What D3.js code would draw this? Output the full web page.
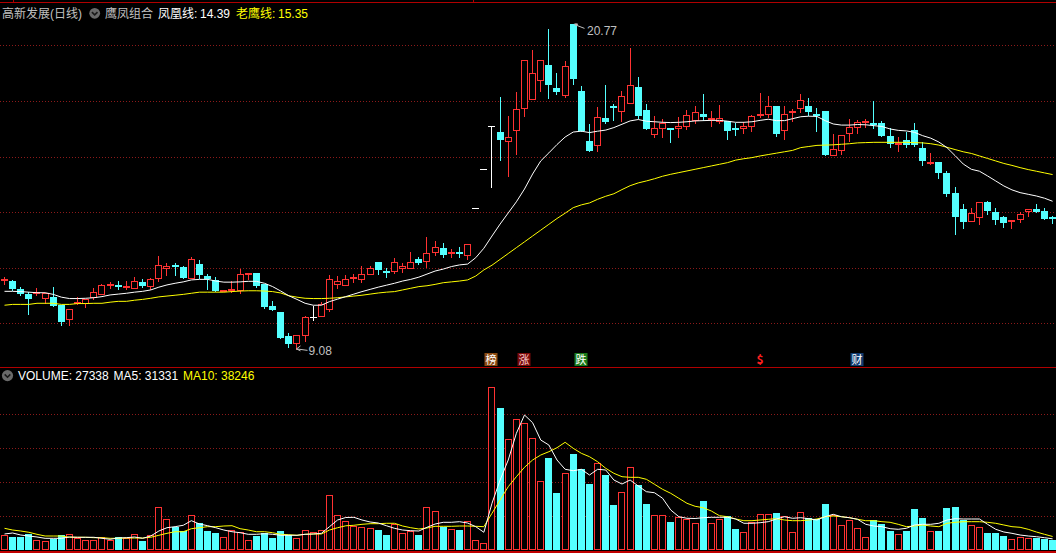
<!DOCTYPE html>
<html><head><meta charset="utf-8">
<script src="https://cdn.jsdelivr.net/npm/d3@7"></script>
<style>html,body{margin:0;padding:0;background:#000;overflow:hidden}</style>
</head><body><svg id="c" width="1056" height="553"></svg>
<script>
// ---------- DATA ----------
const stockName = "高新发展(日线)";
const indicatorName = "鹰凤组合";
const maLabel1 = "凤凰线";
const maLabel2 = "老鹰线";

const openP = [11.55,11.52,11.22,11.05,11.04,10.89,10.96,10.67,10.13,10.75,10.71,10.90,11.03,11.39,11.37,11.28,11.25,11.49,11.32,11.58,
11.96,12.11,12.03,11.61,12.13,11.70,11.56,11.14,11.17,11.16,11.73,11.81,11.42,10.63,10.42,9.54,9.26,9.54,10.24,10.24,
10.48,11.37,11.33,11.64,11.56,11.75,12.19,11.89,11.85,11.96,11.96,12.31,12.19,12.52,12.71,12.48,12.58,12.41,14.13,15.54,
17.09,16.87,16.51,16.91,17.70,18.02,18.71,19.28,18.46,18.19,20.77,18.35,16.56,16.39,17.37,17.81,17.61,17.88,18.50,17.67,
16.78,17.00,17.03,16.98,17.07,17.29,17.53,17.30,17.25,17.29,17.03,17.00,17.07,17.45,17.50,17.82,16.93,17.59,17.72,17.82,
17.54,17.64,16.03,16.21,16.82,17.01,17.24,17.20,17.21,16.73,16.41,16.58,16.94,16.31,15.80,15.80,15.41,14.69,14.11,13.66,
13.80,14.37,14.00,13.81,13.66,13.71,14.02,14.11,14.04,13.81];
const highP = [11.67,11.56,11.31,11.14,11.28,11.09,11.31,10.67,10.52,10.95,10.89,11.27,11.42,11.49,11.51,11.52,11.67,11.59,11.62,12.42,
12.17,12.17,12.06,12.37,12.28,11.76,11.67,11.20,11.51,11.95,11.80,11.81,11.42,10.80,10.42,9.64,9.57,10.27,10.63,10.78,
11.74,11.70,11.74,11.76,12.06,12.07,12.21,11.98,12.34,12.18,12.57,12.37,13.12,12.96,12.89,12.68,12.73,12.84,14.13,15.54,
17.09,18.14,17.46,18.32,19.46,19.83,19.46,20.59,18.99,19.42,20.77,18.54,17.17,17.78,18.57,17.88,18.34,19.90,18.86,17.89,
17.45,17.34,17.04,17.41,17.67,17.82,18.24,17.65,17.85,17.29,17.22,17.24,17.49,18.30,18.18,17.82,17.83,17.71,18.25,18.10,
17.73,17.64,16.81,16.76,17.35,17.31,17.34,17.99,17.28,17.01,16.69,16.89,17.21,16.53,16.13,15.80,15.48,14.90,14.29,14.15,
14.35,14.40,14.15,13.87,13.71,13.99,14.10,14.28,14.14,13.86];
const lowP = [11.40,11.20,11.02,10.35,11.02,10.72,10.63,9.95,9.95,10.68,10.60,10.89,11.02,11.28,11.23,11.25,11.25,11.32,11.23,11.53,
11.75,11.75,11.64,11.58,11.62,11.23,11.16,11.13,11.14,11.09,11.59,11.32,10.55,10.48,9.46,9.16,9.08,9.38,10.12,10.24,
10.45,11.26,11.33,11.50,11.50,11.75,11.77,11.68,11.82,11.85,11.96,12.12,12.04,12.45,12.37,12.37,12.37,12.32,14.13,15.54,
14.91,15.87,15.31,16.10,17.45,18.02,18.37,18.12,18.24,18.15,18.60,16.92,16.21,16.20,17.22,17.31,17.28,17.88,17.37,16.99,
16.71,16.70,16.53,16.70,17.00,17.22,17.31,17.10,17.22,16.64,16.76,16.86,16.93,17.41,17.41,16.75,16.63,17.28,17.61,17.50,
16.93,16.05,16.03,16.09,16.56,16.86,17.07,17.04,16.75,16.33,16.21,16.35,16.39,15.71,15.74,15.24,14.59,13.22,13.44,13.65,
13.58,13.93,13.58,13.48,13.44,13.66,13.87,14.02,13.76,13.62];
const closeP = [11.58,11.23,11.04,10.89,11.12,11.08,10.63,10.06,10.51,10.78,10.89,11.12,11.38,11.42,11.34,11.35,11.51,11.34,11.58,12.09,
12.06,12.09,11.64,12.32,11.75,11.59,11.16,11.20,11.23,11.76,11.80,11.35,10.60,10.48,9.46,9.26,9.57,10.23,10.24,10.68,
11.59,11.51,11.58,11.67,11.77,11.98,11.92,11.87,12.19,12.06,12.19,12.18,12.52,12.73,12.46,12.58,12.55,12.84,14.13,15.54,
17.09,16.60,16.69,17.70,19.46,18.99,19.46,18.58,18.33,19.24,18.80,16.92,16.21,17.41,17.25,17.79,18.17,18.56,17.46,16.99,
17.01,17.21,16.96,17.09,17.48,17.59,17.42,17.37,17.37,16.93,17.01,17.09,17.45,17.53,17.81,16.81,17.53,17.65,18.02,17.60,
17.52,16.05,16.26,16.76,17.06,17.25,17.27,17.12,16.75,16.44,16.50,16.41,16.43,15.85,15.82,15.42,14.65,13.84,13.66,13.97,
14.35,14.05,13.73,13.62,13.71,13.92,14.10,14.02,13.76,13.79];
const volume = [42600,37600,37600,45600,27100,24100,30900,42600,44700,32900,27100,27100,35900,28800,36800,34700,44700,25000,41800,124100,
88800,67100,54400,100600,77100,54400,48500,35900,56500,52300,27100,40600,47600,33800,54400,42600,32900,56500,50600,56500,
159400,100600,82900,70000,66200,62300,57300,42600,74100,47600,55300,42600,124100,112300,67100,59400,57300,82900,27100,18200,
477000,416200,324100,382900,371200,327000,200600,269100,166200,224100,280900,236800,192600,253500,219100,130900,168200,241800,189700,133800,
100600,100600,80900,94700,88800,77100,142600,77100,88800,98500,60300,51500,80900,103500,103500,107300,97600,51500,109400,92600,
89700,133800,100600,71200,85900,62300,35900,85900,75000,54400,44700,54400,119100,92600,53500,54400,122100,125000,85900,71200,
65300,48500,48500,39700,30000,35900,32900,33800,31800,27338];
// 凤凰线 (white) and 老鹰线 (yellow)
const phoenixLine = [11.15,11.15,11.14,11.12,11.10,11.10,11.04,10.94,10.89,10.89,10.90,10.92,10.96,11.02,11.05,11.08,11.12,11.15,11.20,11.30,
11.38,11.44,11.49,11.56,11.58,11.58,11.52,11.48,11.48,11.49,11.51,11.51,11.44,11.32,11.16,10.99,10.86,10.72,10.65,10.65,
10.78,10.87,10.96,11.05,11.14,11.22,11.30,11.37,11.44,11.52,11.58,11.66,11.77,11.88,11.95,12.04,12.10,12.13,12.36,12.70,
13.14,13.57,13.97,14.37,14.83,15.37,15.84,16.13,16.43,16.70,16.88,16.91,16.86,16.91,16.95,17.04,17.16,17.28,17.33,17.27,
17.25,17.23,17.22,17.23,17.25,17.28,17.29,17.30,17.30,17.27,17.23,17.23,17.25,17.30,17.34,17.29,17.29,17.36,17.43,17.45,
17.44,17.29,17.17,17.13,17.13,17.15,17.14,17.11,17.08,16.99,16.94,16.92,16.87,16.75,16.66,16.52,16.32,16.03,15.73,15.54,
15.47,15.30,15.12,14.94,14.80,14.70,14.64,14.58,14.50,14.39];
const eagleLine = [10.65,10.68,10.68,10.68,10.72,10.72,10.72,10.68,10.68,10.71,10.71,10.72,10.72,10.76,10.79,10.79,10.83,10.86,10.90,10.95,
10.98,11.01,11.04,11.08,11.12,11.12,11.12,11.12,11.14,11.16,11.17,11.17,11.16,11.14,11.09,10.99,10.94,10.90,10.89,10.89,
10.90,10.92,10.95,10.98,11.01,11.05,11.09,11.12,11.14,11.20,11.26,11.32,11.35,11.40,11.46,11.49,11.52,11.56,11.70,11.92,
12.09,12.30,12.51,12.72,12.93,13.14,13.35,13.56,13.77,13.96,14.16,14.26,14.33,14.46,14.57,14.66,14.81,14.95,15.05,15.12,
15.20,15.29,15.36,15.42,15.48,15.54,15.60,15.66,15.72,15.78,15.87,15.92,15.96,16.02,16.07,16.12,16.17,16.22,16.32,16.36,
16.40,16.41,16.42,16.44,16.46,16.49,16.50,16.51,16.51,16.51,16.51,16.51,16.50,16.49,16.46,16.41,16.33,16.25,16.17,16.11,
16.02,15.93,15.84,15.75,15.68,15.60,15.53,15.47,15.41,15.35];
const volMA5 = [45600,48500,42600,39700,36800,32900,32900,32900,36800,35900,35900,35900,32900,30000,33800,34700,36800,32900,39700,54400,
64100,67100,71200,84700,75000,70000,64100,57300,52300,49400,44700,44700,46500,44700,41800,41800,41800,44700,45600,47600,
67100,86800,94100,94700,86800,80900,77900,70000,62300,57300,55300,54400,65300,75000,80000,80000,81800,77900,67100,50600,
135900,204400,263200,341700,395600,372900,322000,307300,263200,235900,231700,235900,219100,235900,233800,204400,192600,204400,186800,170000,
167000,150600,116200,96500,91800,91200,93500,94700,94700,94700,89700,77100,77100,78800,81800,89700,96500,91800,93500,90600,
86800,96500,103500,96500,93500,88800,74100,69100,67100,61200,59400,62300,72100,74100,74100,77100,86800,90600,89700,89700,
89700,74100,59400,51500,47600,42600,39700,37600,34700,31331];
const volMA10 = [62300,57300,54400,50600,44700,39700,39700,39700,35900,35900,35900,34700,34700,32900,32900,33800,33800,33800,35900,41800,
47600,52300,52300,61200,64100,67100,67100,69100,70000,61200,57300,52300,52300,49400,44700,43500,41800,44700,45600,45600,
57300,64100,69700,71200,74100,75900,75900,77100,77100,69100,64100,60300,63200,68200,68200,68200,69100,69100,68200,67100,
106500,145600,184700,214100,241800,263200,277900,287600,299400,315300,297600,282900,272900,258200,238800,224100,214100,212300,212300,206500,
191800,177000,165300,150600,135900,127100,122900,113200,99400,96500,89700,84700,84700,86800,88800,90600,86800,84700,84700,86800,
89700,96500,98500,96500,93500,88800,84700,84700,81800,80000,74100,67100,69100,72100,69100,67100,77100,80000,81800,81800,
81800,80000,77100,72100,67100,65300,59400,51500,44700,38246];
const priceGrid = [10,12,14,16,18,20];
const volGrid = [100000,200000,300000,400000];
const eventIndex = [60,64,71,93,105];
const eventLabel = ["榜","涨","跌","$","财"];

// ---------- DRAW ----------
const W = 1056, H = 553;
const RED = "#ff3232", CYAN = "#54ffff", YEL = "#ffff00", GRAY = "#c0c0c0";
const FONT = "'Liberation Sans','Noto Sans CJK SC',sans-serif";
const n = closeP.length;
const svg = d3.select("#c");
svg.append("rect").attr("width", W).attr("height", H).attr("fill", "#000");

const x = d3.scaleLinear().domain([0, n - 1]).range([4.5, 1052.6]);
const y = d3.scaleLinear().domain([10, 20]).range([323.3, 45.3]);
const yv = d3.scaleLinear().domain([0, 400000]).range([549.5, 413.5]);
const cx = i => Math.floor(x(i)) + 0.5;
const py = v => Math.round(y(v)) + 0.5;

// frame lines
svg.append("line").attr("x1", 0).attr("x2", W).attr("y1", 2.5).attr("y2", 2.5).attr("stroke", "#b00000");
[13.5, 473.5].forEach(xx => svg.append("line").attr("x1", xx).attr("x2", xx).attr("y1", 0).attr("y2", 2.5).attr("stroke", "#b00000"));
svg.append("line").attr("x1", 0).attr("x2", W).attr("y1", 367.5).attr("y2", 367.5).attr("stroke", "#b00000");
svg.append("rect").attr("x", 0).attr("y", 551).attr("width", W).attr("height", 2).attr("fill", "#c00000");

// grids
const grid = svg.append("g").attr("stroke", "#8c1a1a").attr("stroke-dasharray", "1,2");
priceGrid.forEach(t => grid.append("line").attr("x1", 0).attr("x2", W).attr("y1", py(t)).attr("y2", py(t)));
volGrid.forEach(t => { const yy = Math.round(yv(t)) + 0.5; grid.append("line").attr("x1", 0).attr("x2", W).attr("y1", yy).attr("y2", yy); });

// candles
const gC = svg.append("g");
d3.range(n).forEach(i => {
  const o = openP[i], c = closeP[i], h = highP[i], l = lowP[i];
  const X = cx(i);
  const col = c > o ? RED : (c < o ? CYAN : "#ffffff");
  const top = Math.round(y(Math.max(o, c))), bot = Math.round(y(Math.min(o, c)));
  const yh = Math.round(y(h)), yl = Math.round(y(l));
  if (c > o) {
    if (yh < top) gC.append("line").attr("x1", X).attr("x2", X).attr("y1", yh).attr("y2", top).attr("stroke", col);
    if (yl > bot) gC.append("line").attr("x1", X).attr("x2", X).attr("y1", bot).attr("y2", yl + 1).attr("stroke", col);
    gC.append("rect").attr("x", X - 3).attr("y", top + 0.5).attr("width", 6).attr("height", Math.max(bot - top - 1, 1))
      .attr("fill", "#000").attr("stroke", col);
  } else if (c < o) {
    gC.append("line").attr("x1", X).attr("x2", X).attr("y1", yh).attr("y2", yl + 1).attr("stroke", col);
    gC.append("rect").attr("x", X - 3.5).attr("y", top).attr("width", 7).attr("height", Math.max(bot - top, 2)).attr("fill", col);
  } else {
    if (yl > yh) gC.append("line").attr("x1", X).attr("x2", X).attr("y1", yh).attr("y2", yl + 1).attr("stroke", col);
    gC.append("line").attr("x1", X - 3.5).attr("x2", X + 3.5).attr("y1", top + 0.5).attr("y2", top + 0.5).attr("stroke", col);
  }
});

// price MA lines
const lineP = d3.line().x((d, i) => x(i)).y(d => y(d));
svg.append("path").datum(eagleLine).attr("d", lineP).attr("fill", "none").attr("stroke", YEL).attr("stroke-width", 1);
svg.append("path").datum(phoenixLine).attr("d", lineP).attr("fill", "none").attr("stroke", "#ffffff").attr("stroke-width", 1);

// volume bars
const gV = svg.append("g");
d3.range(n).forEach(i => {
  const X = cx(i);
  const t = Math.round(yv(volume[i]));
  if (closeP[i] >= openP[i]) {
    gV.append("rect").attr("x", X - 3).attr("y", t + 0.5).attr("width", 6).attr("height", Math.max(549 - t, 1))
      .attr("fill", "#000").attr("stroke", RED);
  } else {
    gV.append("rect").attr("x", X - 3.5).attr("y", t).attr("width", 7).attr("height", 550 - t).attr("fill", CYAN);
  }
});
const lineV = d3.line().x((d, i) => x(i)).y(d => yv(d));
svg.append("path").datum(volMA10).attr("d", lineV).attr("fill", "none").attr("stroke", YEL).attr("stroke-width", 1);
svg.append("path").datum(volMA5).attr("d", lineV).attr("fill", "none").attr("stroke", "#ffffff").attr("stroke-width", 1);

// max / min annotations
const iMax = d3.maxIndex(highP), iMin = d3.minIndex(lowP);
const fmt2 = d3.format(".2f");
{
  const X = cx(iMax), Y = y(highP[iMax]);
  svg.append("path").attr("d", `M${X+1},${Y} l3,0 l-1,2 z`).attr("fill", GRAY).attr("stroke", GRAY);
  svg.append("line").attr("x1", X + 2).attr("y1", Y + 1).attr("x2", X + 11).attr("y2", Y + 4.5).attr("stroke", GRAY);
  svg.append("text").attr("x", X + 13.5).attr("y", Y + 11).attr("fill", GRAY).attr("font-family", FONT).attr("font-size", 12).text(fmt2(highP[iMax]));
}
{
  const X = cx(iMin), Y = y(lowP[iMin]);
  svg.append("path").attr("d", `M${X},${Y} l4,-3 M${X},${Y} l4,2 M${X},${Y} L${X+11},${Y+1.5}`).attr("fill", "none").attr("stroke", GRAY);
  svg.append("text").attr("x", X + 12).attr("y", Y + 6.5).attr("fill", GRAY).attr("font-family", FONT).attr("font-size", 12).text(fmt2(lowP[iMin]));
}

// event icons
const evStyle = {"榜": ["#8a4a12", "#ffffff"], "涨": ["#7a0a0a", "#ffd0d0"], "跌": ["#1a7a1a", "#ffffff"], "$": [null, "#ff2020"], "财": ["#123c70", "#ffffff"]};
eventIndex.forEach((idx, k) => {
  const ch = eventLabel[k], st = evStyle[ch], X = cx(idx);
  if (st[0]) svg.append("rect").attr("x", X - 7).attr("y", 353).attr("width", 13).attr("height", 13).attr("fill", st[0]);
  svg.append("text").attr("x", X - 0.5).attr("y", 364).attr("text-anchor", "middle").attr("fill", st[1])
    .attr("font-family", "'Noto Sans CJK SC',sans-serif").attr("font-size", ch === "$" ? 12 : 11)
    .attr("font-weight", ch === "$" ? "bold" : "normal").text(ch);
});

// header
function txt(xx, yy, s, col) {
  return svg.append("text").attr("x", xx).attr("y", yy).attr("fill", col).attr("font-family", FONT).attr("font-size", 12).text(s);
}
function chevron(xc, yc, r) {
  svg.append("circle").attr("cx", xc).attr("cy", yc).attr("r", r).attr("fill", "#6a6a6a");
  svg.append("path").attr("d", `M${xc-2.8},${yc-1.2} L${xc},${yc+1.6} L${xc+2.8},${yc-1.2}`).attr("fill", "none").attr("stroke", "#1a1a1a").attr("stroke-width", 1.6);
}
txt(2, 18, stockName, GRAY);
chevron(94.7, 13.3, 5.4);
txt(105, 18, indicatorName, GRAY);
txt(158, 18, maLabel1 + ":", "#ffffff");
txt(200, 18, fmt2(phoenixLine[n - 1]), "#ffffff");
txt(236, 18, maLabel2 + ":", YEL);
txt(278, 18, fmt2(eagleLine[n - 1]), YEL);

chevron(7.5, 375.6, 5.6);
txt(18, 380, "VOLUME: " + volume[n - 1], "#ffffff");
txt(113.5, 380, "MA5: " + volMA5[n - 1], "#ffffff");
txt(183, 380, "MA10: " + volMA10[n - 1], YEL);
</script></body></html>
